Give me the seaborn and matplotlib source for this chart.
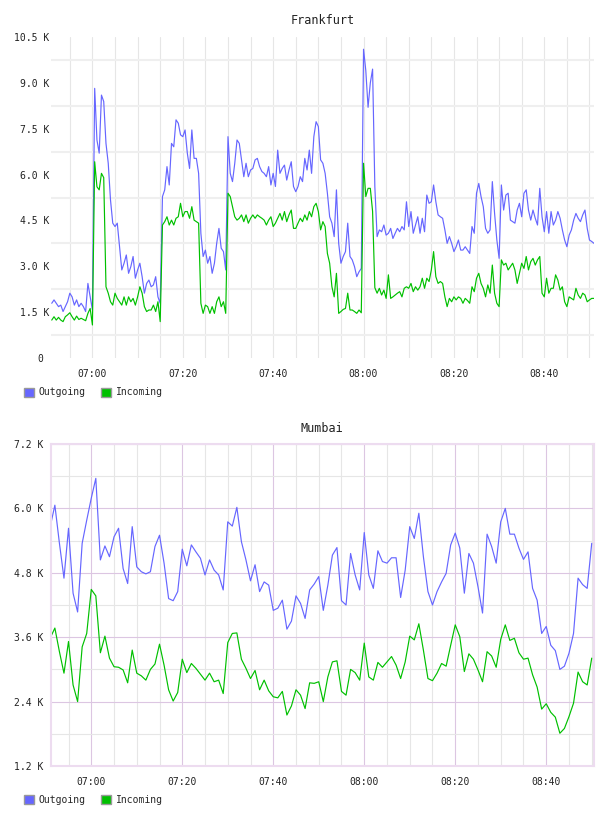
import numpy as np
import pandas as pd
import matplotlib
matplotlib.use("Agg")
import matplotlib.pyplot as plt
import matplotlib.dates as mdates
from matplotlib.patches import Patch
from matplotlib.ticker import FixedLocator, FuncFormatter
import seaborn as sns

# traffic in K, Frankfurt sampled every 30 s from 06:51
fra_start = "2013-01-01 06:51:00"
fra_out = [
    1.79, 1.9, 1.79, 1.68, 1.73, 1.52, 1.68, 1.84, 2.12, 2.0,
    1.73, 1.9, 1.68, 1.79, 1.68, 1.52, 2.44, 2.0, 1.57, 8.82,
    7.13, 6.7, 8.6, 8.39, 7.02, 6.37, 5.17, 4.41, 4.3, 4.41,
    3.64, 2.88, 3.1, 3.37, 2.77, 2.99, 3.32, 2.61, 2.88, 3.1,
    2.66, 2.12, 2.44, 2.55, 2.33, 2.39, 2.66, 2.0, 1.79, 5.28,
    5.5, 6.26, 5.66, 7.02, 6.91, 7.79, 7.68, 7.3, 7.24, 7.46,
    6.7, 6.2, 7.46, 6.53, 6.53, 6.04, 4.08, 3.32, 3.53, 3.1,
    3.32, 2.77, 3.1, 3.75, 4.24, 3.59, 3.48, 2.88, 7.24, 6.04,
    5.77, 6.37, 7.13, 7.02, 6.48, 5.93, 6.37, 5.93, 6.15, 6.2,
    6.48, 6.53, 6.26, 6.1, 6.04, 5.93, 6.26, 5.66, 6.04, 5.61,
    6.8, 6.04, 6.2, 6.31, 5.82, 6.15, 6.42, 5.61, 5.44, 5.61,
    5.93, 5.77, 6.53, 6.15, 6.8, 6.04, 7.24, 7.73, 7.57, 6.48,
    6.37, 6.04, 5.39, 4.62, 4.41, 3.97, 5.5, 3.75, 3.1, 3.32,
    3.48, 4.41, 3.32, 3.21, 2.99, 2.66, 2.82, 2.93, 10.1, 9.4,
    8.2, 9.0, 9.45, 5.6, 3.97, 4.19, 4.13, 4.35, 4.02, 4.08,
    4.24, 3.91, 4.08, 4.24, 4.13, 4.3, 4.19, 5.11, 4.3, 4.79,
    4.08, 4.35, 4.62, 4.08, 4.57, 4.13, 5.33, 5.06, 5.11, 5.66,
    5.11, 4.68, 4.62, 4.57, 4.19, 3.75, 3.97, 3.75, 3.48, 3.64,
    3.86, 3.53, 3.53, 3.64, 3.53, 3.42, 4.3, 4.08, 5.39, 5.71,
    5.28, 4.95, 4.24, 4.08, 4.19, 5.77, 4.73, 3.86, 3.26, 5.66,
    4.84, 5.33, 5.39, 4.51, 4.46, 4.41, 4.84, 5.06, 4.62, 5.39,
    5.5, 4.84, 4.51, 4.84, 4.57, 4.35, 5.55, 4.62, 4.13, 4.79,
    4.08, 4.79, 4.35, 4.51, 4.79, 4.57, 4.19, 3.86, 3.64, 4.02,
    4.19, 4.51, 4.73, 4.57, 4.46, 4.68, 4.84, 4.24, 3.86, 3.81,
    3.75,
]
fra_in = [
    1.24, 1.35, 1.24, 1.33, 1.24, 1.19, 1.35, 1.41, 1.48, 1.35,
    1.24, 1.37, 1.26, 1.3, 1.26, 1.22, 1.46, 1.62, 1.08, 6.42,
    5.6, 5.5, 6.04, 5.9, 2.33, 2.12, 1.84, 1.73, 2.12, 1.95,
    1.84, 1.73, 2.0, 1.73, 2.0, 1.84, 1.95, 1.73, 2.0, 2.33,
    2.12, 1.68, 1.52, 1.57, 1.57, 1.73, 1.52, 1.84, 1.19, 4.35,
    4.46, 4.62, 4.35, 4.51, 4.35, 4.57, 4.62, 5.06, 4.62, 4.79,
    4.79, 4.57, 4.95, 4.51, 4.46, 4.41, 1.79, 1.46, 1.73, 1.68,
    1.46, 1.68, 1.46, 1.84, 2.0, 1.68, 1.84, 1.46, 5.39, 5.28,
    4.95, 4.62, 4.51, 4.57, 4.68, 4.46, 4.68, 4.41, 4.57, 4.68,
    4.57, 4.68, 4.62, 4.57, 4.51, 4.35, 4.51, 4.62, 4.3, 4.41,
    4.57, 4.73, 4.51, 4.79, 4.46, 4.68, 4.84, 4.24, 4.24, 4.41,
    4.57, 4.46, 4.68, 4.51, 4.79, 4.62, 4.95, 5.06, 4.79, 4.19,
    4.46, 4.3, 3.42, 3.1, 2.33, 2.0, 2.77, 1.46, 1.52, 1.59,
    1.62, 2.12, 1.57, 1.57, 1.52, 1.46, 1.57, 1.48, 6.37, 5.28,
    5.55, 5.55, 4.8, 2.3, 2.12, 2.28, 2.06, 2.22, 1.95, 2.72,
    1.95, 2.0, 2.06, 2.12, 2.17, 2.0, 2.28, 2.33, 2.28, 2.44,
    2.17, 2.33, 2.22, 2.33, 2.61, 2.28, 2.61, 2.5, 2.88, 3.48,
    2.66, 2.44, 2.5, 2.44, 2.0, 1.68, 1.95, 1.84, 2.0, 1.9,
    2.0, 1.95, 1.79, 1.95, 1.88, 1.79, 2.33, 2.17, 2.61, 2.77,
    2.44, 2.28, 2.0, 2.39, 2.12, 3.04, 2.12, 1.79, 1.68, 3.21,
    3.04, 3.1, 2.88, 2.99, 3.1, 2.88, 2.44, 2.77, 3.1, 2.93,
    3.32, 2.88, 3.15, 3.26, 3.04, 3.21, 3.32, 2.12, 2.0, 2.61,
    2.12, 2.28, 2.28, 2.72, 2.55, 2.22, 2.33, 1.84, 1.68, 2.0,
    1.95, 1.9, 2.28, 2.06, 1.95, 2.12, 2.06, 1.84, 1.9, 1.95,
    1.95,
]

# Mumbai sampled every minute
mum_start = "2013-01-01 06:51:00"
mum_out = [
    5.67, 6.06, 5.35, 4.7, 5.63, 4.42, 4.07, 5.35, 5.78, 6.19,
    6.56, 5.04, 5.3, 5.1, 5.47, 5.63, 4.88, 4.6, 5.66, 4.91,
    4.82, 4.78, 4.82, 5.29, 5.5, 4.98, 4.32, 4.28, 4.45, 5.24,
    4.93, 5.32, 5.19, 5.07, 4.76, 5.04, 4.85, 4.76, 4.48, 5.75,
    5.67, 6.02, 5.38, 5.04, 4.65, 4.95, 4.45, 4.63, 4.57, 4.1,
    4.14, 4.29, 3.75, 3.9, 4.37, 4.23, 3.95, 4.48, 4.59, 4.73,
    4.1, 4.57, 5.13, 5.27, 4.28, 4.2, 5.16, 4.76, 4.48, 5.55,
    4.76, 4.51, 5.21, 5.01, 4.98, 5.08, 5.08, 4.34, 4.85, 5.66,
    5.44, 5.91, 5.1, 4.45, 4.2, 4.45, 4.63, 4.79, 5.32, 5.54,
    5.26, 4.42, 5.16, 4.98, 4.54, 4.05, 5.52, 5.29, 4.98, 5.75,
    6.0, 5.52, 5.52, 5.26, 5.05, 5.19, 4.51, 4.29, 3.67, 3.8,
    3.45, 3.35, 3.0, 3.06, 3.3, 3.67, 4.7, 4.58, 4.51, 5.35,
]
mum_in = [
    3.59, 3.77, 3.33, 2.93, 3.52, 2.71, 2.4, 3.42, 3.67, 4.49,
    4.37, 3.31, 3.62, 3.21, 3.05, 3.04, 2.99, 2.75, 3.36, 2.93,
    2.88, 2.8, 3.0, 3.1, 3.47, 3.08, 2.62, 2.41, 2.57, 3.19,
    2.94, 3.11, 3.02, 2.91, 2.8, 2.93, 2.77, 2.8, 2.55, 3.5,
    3.67, 3.68, 3.19, 3.02, 2.83, 2.98, 2.62, 2.8, 2.6, 2.49,
    2.47, 2.59, 2.15, 2.32, 2.62, 2.52, 2.27, 2.75, 2.74, 2.77,
    2.4, 2.86, 3.14, 3.16, 2.59, 2.52, 3.0, 2.94, 2.8, 3.49,
    2.86, 2.8, 3.13, 3.04, 3.14, 3.24, 3.08, 2.83, 3.14, 3.62,
    3.55, 3.85, 3.36, 2.83, 2.79, 2.93, 3.11, 3.06, 3.45, 3.83,
    3.61, 2.96, 3.29, 3.19, 2.99, 2.77, 3.33, 3.25, 3.04, 3.56,
    3.83, 3.54, 3.58, 3.31, 3.19, 3.21, 2.9, 2.67, 2.26, 2.36,
    2.2, 2.11, 1.81, 1.9, 2.12, 2.37, 2.95, 2.77, 2.71, 3.21,
]

series_names = ["Outgoing", "Incoming"]
palette = {"Outgoing": "#6666ff", "Incoming": "#00c000"}
MONO = "DejaVu Sans Mono"
TXT = "#222222"


def long_frame(start, freq, out_vals, in_vals):
    times = pd.date_range(start, periods=len(out_vals), freq=freq)
    df = pd.DataFrame({"time": times, "Outgoing": out_vals, "Incoming": in_vals})
    return df.melt(id_vars="time", var_name="series", value_name="k")


def draw_lines(ax, df):
    sns.lineplot(data=df, x="time", y="k", hue="series", hue_order=series_names,
                 palette=palette, estimator=None, linewidth=0.85, legend=False, ax=ax)
    ax.set_xlabel("")
    ax.set_ylabel("")


def add_legend(fig, y):
    handles = [Patch(facecolor=palette[s], edgecolor="#999999", linewidth=1) for s in series_names]
    fig.legend(handles, series_names, loc="center left", bbox_to_anchor=(24 / 608, y),
               ncol=2, frameon=False, handlelength=1.0, handleheight=1.0,
               handletextpad=0.5, columnspacing=1.6, borderpad=0, borderaxespad=0,
               prop={"family": MONO, "size": 7})


sns.set_theme(style="white")
plt.rcParams["font.family"] = [MONO, "DejaVu Sans"]

fig = plt.figure(figsize=(6.08, 8.16), dpi=100)

# ---- Frankfurt ----
ax1 = fig.add_axes([51 / 608, 1 - 358 / 816, 543 / 608, 321 / 816])
draw_lines(ax1, long_frame(fra_start, "30s", fra_out, fra_in))
ax1.set_xlim(pd.Timestamp("2013-01-01 06:50:50"), pd.Timestamp("2013-01-01 08:51:00"))
ax1.set_ylim(0, 10.5)
ax1.yaxis.set_major_locator(FixedLocator(np.arange(0, 10.51, 1.5)))
ax1.yaxis.set_minor_locator(FixedLocator(np.arange(0.75, 10.5, 1.5)))
ax1.yaxis.set_major_formatter(FuncFormatter(lambda v, p: "0 " if v == 0 else f"{v:.1f} K"))
ax1.xaxis.set_major_locator(mdates.MinuteLocator(byminute=[0, 20, 40]))
ax1.xaxis.set_minor_locator(mdates.MinuteLocator(byminute=range(0, 60, 5)))
ax1.xaxis.set_major_formatter(mdates.DateFormatter("%H:%M"))
ax1.grid(False)
ax1.grid(True, which="minor", axis="y", color="#efefef", linewidth=1.5)
ax1.grid(True, which="both", axis="x", color="#e6e6e6", linewidth=0.8)
for sp in ax1.spines.values():
    sp.set_visible(False)
ax1.tick_params(axis="y", which="both", length=0, pad=1, labelsize=7, labelcolor=TXT)
ax1.tick_params(axis="x", which="both", length=0, pad=8, labelsize=7, labelcolor=TXT)
ax1.set_title("Frankfurt", fontsize=8.5, color=TXT, pad=9)
add_legend(fig, 1 - 392.5 / 816)

# ---- Mumbai ----
ax2 = fig.add_axes([50.7 / 608, 1 - 766 / 816, 543.3 / 608, 322 / 816])
draw_lines(ax2, long_frame(mum_start, "60s", mum_out, mum_in))
ax2.set_xlim(pd.Timestamp("2013-01-01 06:51:05"), pd.Timestamp("2013-01-01 08:50:30"))
ax2.set_ylim(1.2, 7.2)
ax2.yaxis.set_major_locator(FixedLocator(np.arange(1.2, 7.21, 1.2)))
ax2.yaxis.set_minor_locator(FixedLocator(np.arange(1.8, 7.2, 1.2)))
ax2.yaxis.set_major_formatter(FuncFormatter(lambda v, p: f"{v:.1f} K"))
ax2.xaxis.set_major_locator(mdates.MinuteLocator(byminute=[0, 20, 40]))
ax2.xaxis.set_minor_locator(mdates.MinuteLocator(byminute=range(0, 60, 5)))
ax2.xaxis.set_major_formatter(mdates.DateFormatter("%H:%M"))
ax2.grid(False)
ax2.grid(True, which="major", color="#dcc6e2", linewidth=0.8)
ax2.grid(True, which="minor", color="#e6e6e6", linewidth=0.8)
for sp in ax2.spines.values():
    sp.set_color("#eddcf0")
    sp.set_linewidth(1.5)
ax2.tick_params(axis="y", which="both", length=0, pad=5, labelsize=7, labelcolor=TXT)
ax2.tick_params(axis="x", which="both", length=0, pad=8, labelsize=7, labelcolor=TXT)
ax2.set_title("Mumbai", fontsize=8.5, color=TXT, pad=9)
add_legend(fig, 1 - 800 / 816)

fig.savefig("out.png", dpi=100)
